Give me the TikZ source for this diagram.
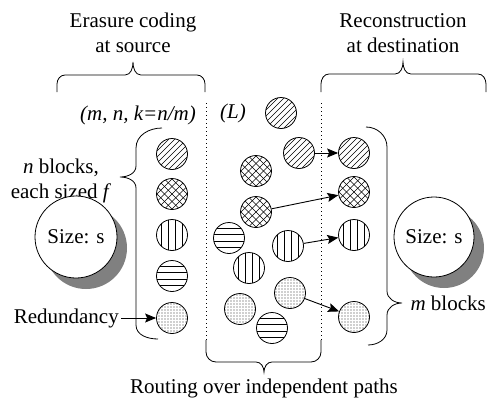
\documentclass[tikz,border=0pt]{standalone}
\usepackage{fontspec}
\setmainfont{Liberation Serif}
\usetikzlibrary{arrows.meta,patterns.meta,shadows}

\newcommand\lblfont{\fontsize{21}{25}\selectfont}

\tikzset{
  blk/.style={circle,draw,line width=.8pt,minimum size=31pt,inner sep=0pt},
  stripe/.style={line width=.55pt},
  diag/.style={path picture={
    \foreach \i in {-6,...,6}
      \draw[stripe] ([xshift=\i*6pt]path picture bounding box.center) ++(-20pt,-20pt) -- ++(40pt,40pt);}},
  xhatch/.style={path picture={
    \foreach \i in {-5,...,5} {
      \draw[stripe] ([xshift=\i*7.5pt]path picture bounding box.center) ++(-20pt,-20pt) -- ++(40pt,40pt);
      \draw[stripe] ([xshift=\i*7.5pt]path picture bounding box.center) ++(-20pt,20pt) -- ++(40pt,-40pt);}}},
  vert/.style={path picture={
    \foreach \i in {-10.5,-3.5,3.5,10.5}
      \draw[stripe] ([xshift=\i pt]path picture bounding box.center) ++(0,-20pt) -- ++(0,40pt);}},
  horiz/.style={path picture={
    \foreach \i in {-9.75,-3.25,3.25,9.75}
      \draw[stripe] ([yshift=\i pt]path picture bounding box.center) ++(-20pt,0) -- ++(40pt,0);}},
  dots/.style={pattern={Dots[distance=3pt,radius=.6pt]},pattern color=black!80},
  filebox/.style={circle,draw,line width=.8pt,fill=white,font=\lblfont,
    drop shadow={shadow xshift=10pt,shadow yshift=-11pt,fill=black!50,opacity=1}},
  brc/.style={line width=.8pt},
  sep/.style={line width=.8pt,dash pattern=on .8pt off 3.2pt},
  hop/.style={line width=.9pt,-{Stealth[length=11pt,width=9pt,inset=2pt]}},
  txt/.style={font=\lblfont,align=center}
}

\begin{document}
\begin{tikzpicture}[x=1pt,y=-1pt]
\useasboundingbox (0,0) rectangle (488,400);

% headings
\node[txt] (enc) at (133,33) {Erasure coding\\at source};
\node[txt] (rec) at (403,33) {Reconstruction\\at destination};
\node[txt] (rte) at (264,388) {Routing over independent paths};
\node[txt,anchor=east,inner sep=0pt] (par) at (196,115) {\itshape (m, n, k=n/m)};
\node[txt] (lat) at (233,113) {\itshape (L)};
\node[txt] (nbl) at (61,181) {\textit{n} blocks,\\each sized \textit{f}};
\node[txt,anchor=west] (mbl) at (407,303) {\textit{m} blocks};
\node[txt,anchor=east,inner sep=2pt] (red) at (121,318) {Redundancy};

% whole file at both ends
\node[filebox,minimum size=82pt] (src) at (76,237) {Size: s};
\node[filebox,minimum size=80pt] (dst) at (434,237) {Size: s};

% blocks
\foreach \nm/\x/\y/\fil in {
s1/172/154/diag, s2/172/194/xhatch, s3/172/235/vert, s4/172/276/horiz, s5/172/318/dots,
m1/281/113/diag, m2/299/153/diag, m3/256/171/xhatch, m4/256/212/xhatch,
m5/229/238/horiz, m6/288/246/vert, m7/249/268/vert, m8/290/293/dots,
m9/240/309/dots, m10/272/328/horiz,
d1/354/153/diag, d2/354/192/xhatch, d3/354/235/vert, d4/354/317/dots%
} {
\node[blk,\fil] (\nm) at (\x,\y) {};
}

\draw[hop] (m2) -- (d1);
\draw[hop] (m4) -- (d2);
\draw[hop] (m6) -- (d3);
\draw[hop] (m8) -- (d4);
\draw[hop] (red) -- (s5);

% stage borders
\coordinate (lt) at (206,103);
\coordinate (lb) at (206,340);
\coordinate (rt) at (321,103);
\coordinate (rb) at (321,340);
\draw[sep] (lt) -- (lb);
\draw[sep] (rt) -- (rb);

% braces
\draw[brc] (57,92) -- (57,84) to[out=90,in=180] (65,75) -- (125,75)
  to[out=0,in=-90] (133,62) to[out=-90,in=180] (141,75) -- (197,75)
  to[out=0,in=90] (205,84) -- (205,92);
\draw[brc] (321,92) -- (321,84) to[out=90,in=180] (329,74) -- (395,74)
  to[out=0,in=-90] (403,62) to[out=-90,in=180] (411,74) -- (478,74)
  to[out=0,in=90] (486,84) -- (486,92);
\draw[brc] (lb) -- (206,352) to[out=-90,in=180] (216,362) -- (256,362)
  to[out=0,in=90] (264,372) to[out=90,in=180] (272,362) -- (311,362)
  to[out=0,in=-90] (321,352) -- (rb);
\draw[brc] (162,128) to[out=180,in=90] (136,148) -- (136,166)
  to[out=-90,in=0] (120,177) to[out=0,in=90] (136,188) -- (136,325)
  to[out=-90,in=180] (158,339);
\draw[brc] (366,127) to[out=0,in=90] (387,147) -- (387,291)
  to[out=-90,in=180] (402,303) to[out=180,in=90] (387,315) -- (387,330)
  to[out=-90,in=0] (368,345);
\end{tikzpicture}
\end{document}
